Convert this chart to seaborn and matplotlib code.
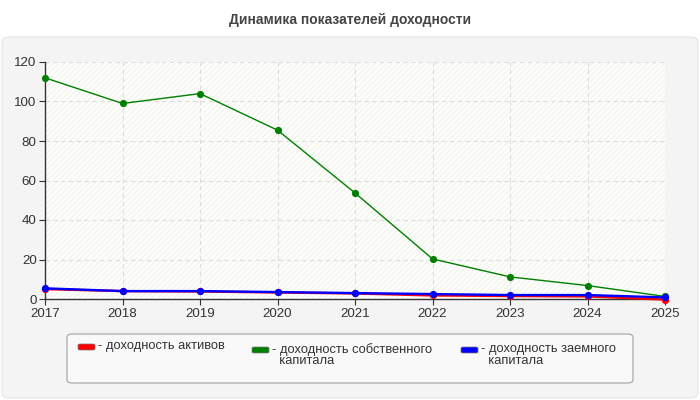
import numpy as np
import pandas as pd
import matplotlib
matplotlib.use('Agg')
import matplotlib.pyplot as plt
from matplotlib.patches import FancyBboxPatch, Rectangle
import seaborn as sns

years = [2017, 2018, 2019, 2020, 2021, 2022, 2023, 2024, 2025]
assets = [5.0, 4.0, 3.8, 3.3, 2.8, 1.8, 1.5, 1.3, -0.3]
equity = [112.0, 99.0, 104.0, 85.5, 53.7, 20.3, 11.2, 6.8, 1.3]
debt = [5.4, 4.0, 4.0, 3.5, 3.0, 2.5, 2.0, 2.0, 0.8]
series_names = ['доходность активов', 'доходность собственного\nкапитала',
                'доходность заемного\nкапитала']
colors = ['#ff0000', '#008000', '#0000ff']

df = pd.concat([
    pd.DataFrame({'year': years, 'value': assets, 'series': series_names[0]}),
    pd.DataFrame({'year': years, 'value': equity, 'series': series_names[1]}),
    pd.DataFrame({'year': years, 'value': debt, 'series': series_names[2]}),
])

sns.set_style('white')
plt.rcParams['font.family'] = ['Liberation Sans', 'DejaVu Sans']
plt.rcParams['hatch.linewidth'] = 0.5

W, H = 700, 400
fig = plt.figure(figsize=(7, 4), dpi=100)
fig.patch.set_facecolor('white')


def fx(px):
    return px / W


def fy(py):
    return 1 - py / H


# gray panel behind the chart
panel = FancyBboxPatch((fx(2), fy(398)), fx(696), 361 / H,
                       boxstyle='round,pad=0,rounding_size=0.012',
                       transform=fig.transFigure, facecolor='#f4f4f4',
                       edgecolor='#e4e4e4', linewidth=0.8, zorder=-5)
fig.patches.append(panel)

fig.text(0.5, fy(20), 'Динамика показателей доходности', ha='center', va='center',
         fontsize=10, fontweight='bold', color='#444444')

ax = fig.add_axes([fx(45), fy(299), 620 / W, 237 / H])
ax.set_facecolor('#fdfdf9')
ax.add_patch(Rectangle((0, 0), 1, 1, transform=ax.transAxes, facecolor='none',
                       edgecolor='#ededed', hatch='//////', linewidth=0, zorder=0))

for i, name in enumerate(series_names):
    sub = df[df['series'] == name]
    lw = 1.0 if i == 1 else 1.7
    sns.lineplot(data=sub, x='year', y='value', color=colors[i], ax=ax,
                 linewidth=lw, marker='o', markersize=5.2, markeredgewidth=0,
                 zorder=3 + i, legend=False, clip_on=False)

ax.set_xlim(2017, 2025)
ax.set_ylim(0, 120)
ax.set_xticks(years)
ax.set_yticks(np.arange(0, 121, 20))
ax.set_xlabel('')
ax.set_ylabel('')
ax.grid(True, color='#dddddd', linestyle=(0, (4, 3)), linewidth=0.8)
ax.set_axisbelow(True)
for s in ['top', 'right']:
    ax.spines[s].set_visible(False)
for s in ['left', 'bottom']:
    ax.spines[s].set_color('#333333')
    ax.spines[s].set_linewidth(1.0)
ax.tick_params(axis='both', labelsize=9.6, colors='#333333', length=4,
               direction='out', width=0.8, bottom=True, left=True, pad=2)
ax.tick_params(axis='x', pad=2.5)

# legend box drawn by hand so that handles line up with the first text line
fig.patches.append(FancyBboxPatch((fx(67), fy(383)), fx(566), 49 / H,
                                  boxstyle='round,pad=0,rounding_size=0.008',
                                  transform=fig.transFigure, facecolor='#f9f9f9',
                                  edgecolor='#aaaaaa', linewidth=0.9, zorder=1))
leg_x = [78, 252, 461]
leg_y = [347, 350, 350]
for c, name, x, y in zip(colors, series_names, leg_x, leg_y):
    fig.patches.append(FancyBboxPatch((fx(x), fy(y + 3)), fx(17), 6 / H,
                                      boxstyle='round,pad=0,rounding_size=0.003',
                                      transform=fig.transFigure, facecolor=c,
                                      edgecolor='#777777', linewidth=0.5, zorder=2))
    fig.text(fx(x + 20), fy(y - 7), '- ' + name.replace('\n', '\n  '),
             ha='left', va='top', fontsize=9.3, color='#333333',
             linespacing=0.95, zorder=3)

fig.savefig('out.png', dpi=100, facecolor=fig.get_facecolor())
